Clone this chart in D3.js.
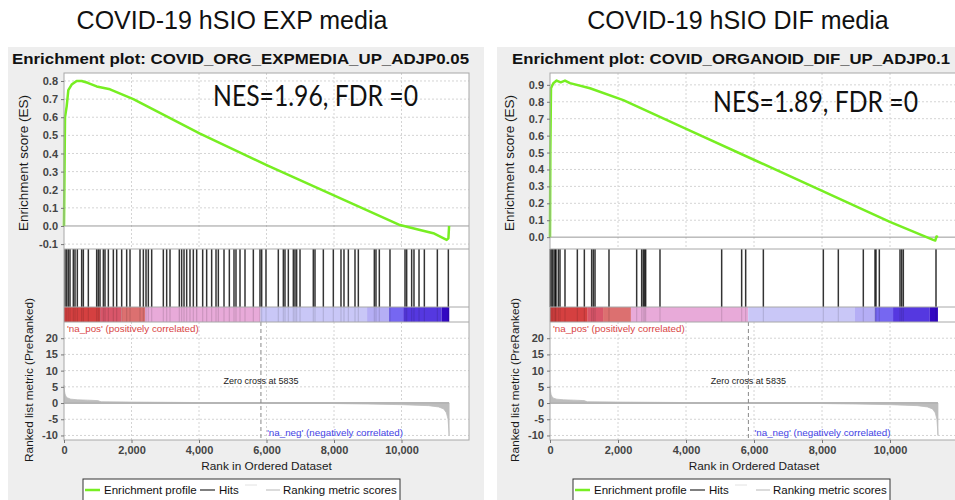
<!DOCTYPE html>
<html>
<head>
<meta charset="utf-8">
<script src="https://cdn.jsdelivr.net/npm/d3@7"></script>
<style>
body { margin: 0; background: #fff; }
svg { display: block; font-family: "Liberation Sans", Arial, sans-serif; }
.tick text { font-size: 11px; font-weight: bold; fill: #444; }
.tick line { stroke: #777; }
</style>
</head>
<body>
<div id="viz"></div>
<script>
const xTicks = [0, 2000, 4000, 6000, 8000, 10000];
const metricTicks = [-10, -5, 0, 5, 10, 15, 20];
const esTicksLeft = [-0.1, 0, 0.1, 0.2, 0.3, 0.4, 0.5, 0.6, 0.7, 0.8];
const esTicksRight = [0, 0.1, 0.2, 0.3, 0.4, 0.5, 0.6, 0.7, 0.8, 0.9];
const zeroCross = 5835;
const nGenes = 11410;

// running enrichment score, [rank, ES]
const esLeft = [[0, 0], [8, 0.16], [30, 0.6], [79, 0.66], [128, 0.75], [227, 0.78], [375, 0.80], [523, 0.80],
  [700, 0.79], [968, 0.77], [1363, 0.754], [2054, 0.70], [4030, 0.51], [6005, 0.336], [7980, 0.17],
  [9955, 0.005], [10548, -0.022], [10943, -0.04], [11338, -0.077], [11390, -0.068], [11410, 0]];
const esRight = [[0, 0], [10, 0.5], [29, 0.88], [98, 0.91], [196, 0.925], [314, 0.915], [441, 0.925],
  [588, 0.91], [1176, 0.88], [2156, 0.81], [4116, 0.63], [6076, 0.45], [8036, 0.27], [9996, 0.09],
  [11270, -0.016], [11330, -0.02], [11368, 0.004], [11410, 0.0]];

// gene set hits (ranks)
const hitsLeft = [30, 79, 128, 178, 276, 326, 395, 523, 573, 721, 968, 1017, 1067, 1166, 1215, 1314, 1462,
  1561, 1709, 1857, 1956, 2252, 2351, 2430, 2499, 2598, 2943, 3042, 3141, 3417, 3486, 3556, 3635, 3733,
  3832, 3931, 4109, 4227, 4375, 4504, 4573, 4741, 4899, 5037, 5096, 5215, 5363, 5610, 5807, 5857, 5985,
  6350, 6499, 6548, 6647, 6795, 6844, 6893, 6993, 7387, 7437, 7684, 7980, 8207, 8296, 8425, 8622, 8721,
  9195, 9244, 9343, 9659, 10104, 10153, 10301, 10370, 10519, 10677, 11062, 11388];
const hitsRight = [10, 29, 69, 118, 157, 176, 245, 294, 441, 804, 1010, 1225, 1275, 1324, 1735, 2549, 2696,
  2744, 2783, 2814, 3235, 5049, 5637, 5755, 6275, 8039, 8480, 9215, 9559, 9588, 9686, 10294, 10343,
  10392, 11353];

// colour bar segments: boundaries (ranks) and metric level of each segment
const barBreaksLeft = [0, 1070, 1700, 2400, 5820, 8980, 9630, 10050, 11190, 11415];
const barBreaksRight = [0, 1110, 1560, 2380, 5830, 8970, 9560, 10090, 11170, 11410];
const barLevels = [4, 3, 2, 1, -1, -2, -3, -4, -5];

// ranked list metric, [rank, value]
const metricLeft = [[0, 5.5], [10, 4], [30, 2.8], [60, 2], [100, 1.6], [200, 1.2], [400, 1.0], [700, 0.9],
  [1000, 0.75], [1100, 0.4], [2000, 0.3], [4000, 0.15], [5835, 0], [8000, -0.15], [9000, -0.3],
  [10000, -0.5], [10800, -0.8], [11100, -1.2], [11250, -1.8], [11330, -3], [11380, -5], [11400, -8],
  [11410, -10]];
const metricRight = [[0, 5.3], [10, 4], [30, 2.7], [60, 2], [100, 1.5], [200, 1.2], [400, 1.0], [700, 0.9],
  [1000, 0.75], [1100, 0.4], [2000, 0.3], [4000, 0.15], [5835, 0], [8000, -0.15], [9000, -0.3],
  [10000, -0.5], [10800, -0.8], [11100, -1.2], [11250, -1.8], [11330, -3], [11380, -5], [11400, -8],
  [11410, -10]];

const barColor = d3.scaleOrdinal()
  .domain([4, 3, 2, 1, -1, -2, -3, -4, -5])
  .range(["#d54040", "#d9566a", "#dc7070", "#e8aad9", "#c9c7f7", "#b5aef5", "#7667f1", "#5538e0", "#3208c2"]);

const panels = [
  { title: "COVID-19 hSIO EXP media", plotTitle: "Enrichment plot: COVID_ORG_EXPMEDIA_UP_ADJP0.05",
    nes: "NES=1.96, FDR =0", es: esLeft, esTicks: esTicksLeft, esDomain: [-0.127, 0.844],
    hits: hitsLeft, bar: barBreaksLeft, metric: metricLeft,
    panelX: 8, panelW: 476, x0: 64, x1: 469, titleX: 232, plotTitleX: 12, plotTitleW: 457,
    nesX: 213, nesY: 106, legendX: 83 },
  { title: "COVID-19 hSIO DIF media", plotTitle: "Enrichment plot: COVID_ORGANOID_DIF_UP_ADJP0.1",
    nes: "NES=1.89, FDR =0", es: esRight, esTicks: esTicksRight, esDomain: [-0.07, 0.97],
    hits: hitsRight, bar: barBreaksRight, metric: metricRight,
    panelX: 497, panelW: 470, x0: 550, x1: 958, titleX: 738, plotTitleX: 512, plotTitleW: 438,
    nesX: 713, nesY: 112, legendX: 573 }
];

const W = 955, H = 500;
const esTop = 73, esBottom = 249, hitsBottom = 307, barBottom = 322, rankBottom = 440;

const svg = d3.select("#viz").append("svg").attr("width", W).attr("height", H);

panels.forEach(drawPanel);

function drawPanel(p) {
  const g = svg.append("g");
  const x = d3.scaleLinear().domain([0, 12000]).range([p.x0, p.x1]);
  const yEs = d3.scaleLinear().domain(p.esDomain).range([esBottom, esTop]);
  const yM = d3.scaleLinear().domain([-11.4, 25]).range([rankBottom, barBottom]);
  const pw = p.x1 - p.x0;

  // page title
  svg.append("text").attr("x", p.titleX).attr("y", 29).attr("text-anchor", "middle")
    .attr("font-size", 25).attr("fill", "#111").text(p.title);

  // grey window
  g.append("rect").attr("x", p.panelX).attr("y", 47).attr("width", p.panelW).attr("height", H - 47)
    .attr("fill", "#eeeeee");

  g.append("text").attr("x", p.plotTitleX).attr("y", 64)
    .attr("font-size", 15).attr("font-weight", "bold").attr("fill", "#111")
    .attr("textLength", p.plotTitleW).attr("lengthAdjust", "spacingAndGlyphs")
    .text(p.plotTitle);

  g.append("rect").attr("x", p.x0).attr("y", esTop).attr("width", pw).attr("height", rankBottom - esTop)
    .attr("fill", "#fff");

  // ES grid
  const grid = g.append("g").attr("stroke", "#d4d4d4").attr("stroke-dasharray", "2,2");
  grid.selectAll(".vx").data(xTicks.slice(1)).join("line")
    .attr("x1", d => x(d)).attr("x2", d => x(d)).attr("y1", esTop).attr("y2", esBottom);
  grid.selectAll(".hy").data(p.esTicks.filter(d => d !== 0)).join("line")
    .attr("x1", p.x0).attr("x2", p.x1).attr("y1", d => yEs(d)).attr("y2", d => yEs(d));
  g.append("line").attr("x1", p.x0).attr("x2", p.x1).attr("y1", yEs(0)).attr("y2", yEs(0))
    .attr("stroke", "#999");

  g.append("path").datum(p.es)
    .attr("d", d3.line().x(d => x(d[0])).y(d => yEs(d[1])))
    .attr("fill", "none").attr("stroke", "#77ee22").attr("stroke-width", 2.5)
    .attr("stroke-linejoin", "round");

  // colour bar
  const segs = barLevels.map((lv, i) => ({ a: p.bar[i], b: p.bar[i + 1], lv }));
  g.selectAll(".seg").data(segs).join("rect")
    .attr("x", d => x(d.a)).attr("width", d => x(d.b) - x(d.a))
    .attr("y", hitsBottom).attr("height", barBottom - hitsBottom)
    .attr("fill", d => barColor(d.lv));

  // hits
  g.selectAll(".hit").data(p.hits).join("line")
    .attr("x1", d => x(d)).attr("x2", d => x(d)).attr("y1", esBottom).attr("y2", hitsBottom)
    .attr("stroke", "#000").attr("stroke-opacity", 0.8).attr("stroke-width", 1.5);
  g.selectAll(".hitb").data(p.hits).join("line")
    .attr("x1", d => x(d)).attr("x2", d => x(d)).attr("y1", hitsBottom).attr("y2", barBottom)
    .attr("stroke", "#000").attr("stroke-opacity", 0.12).attr("stroke-width", 1.2);

  // ranked metric grid
  const grid2 = g.append("g").attr("stroke", "#d4d4d4").attr("stroke-dasharray", "2,2");
  grid2.selectAll(".vx").data(xTicks.slice(1)).join("line")
    .attr("x1", d => x(d)).attr("x2", d => x(d)).attr("y1", barBottom).attr("y2", rankBottom);
  grid2.selectAll(".hy").data(metricTicks.filter(d => d !== 0)).join("line")
    .attr("x1", p.x0).attr("x2", p.x1).attr("y1", d => yM(d)).attr("y2", d => yM(d));

  g.append("path").datum(p.metric)
    .attr("d", d3.area().x(d => x(d[0])).y0(yM(0)).y1(d => yM(d[1])))
    .attr("fill", "#bdbdbd").attr("stroke", "#bdbdbd").attr("stroke-width", 0.8);
  g.append("line").attr("x1", x(0)).attr("x2", x(nGenes)).attr("y1", yM(0)).attr("y2", yM(0))
    .attr("stroke", "#b5b5b5").attr("stroke-width", 2);

  g.append("line").attr("x1", x(zeroCross)).attr("x2", x(zeroCross)).attr("y1", barBottom).attr("y2", rankBottom)
    .attr("stroke", "#888").attr("stroke-dasharray", "4,3");

  g.append("text").attr("x", x(zeroCross)).attr("y", 384).attr("text-anchor", "middle")
    .attr("font-size", 9).attr("fill", "#222").text("Zero cross at " + zeroCross);
  g.append("text").attr("x", p.x0 + 3).attr("y", 332).attr("font-size", 9.8).attr("fill", "#d94444")
    .text("'na_pos' (positively correlated)");
  g.append("text").attr("x", x(zeroCross) + 6).attr("y", 436).attr("font-size", 9.8).attr("fill", "#4444e6")
    .text("'na_neg' (negatively correlated)");

  // borders
  const border = g.append("g").attr("fill", "none").attr("stroke", "#a8a8a8");
  border.append("rect").attr("x", p.x0).attr("y", esTop).attr("width", pw).attr("height", rankBottom - esTop);
  [esBottom, hitsBottom, barBottom].forEach(yy =>
    border.append("line").attr("x1", p.x0).attr("x2", p.x1).attr("y1", yy).attr("y2", yy));

  // axes
  const ax1 = g.append("g").attr("transform", `translate(${p.x0},0)`)
    .call(d3.axisLeft(yEs).tickValues(p.esTicks).tickFormat(d => d.toFixed(1)).tickSize(3).tickPadding(3));
  const ax2 = g.append("g").attr("transform", `translate(${p.x0},0)`)
    .call(d3.axisLeft(yM).tickValues(metricTicks).tickFormat(d => String(d)).tickSize(3).tickPadding(3));
  const ax3 = g.append("g").attr("transform", `translate(0,${rankBottom})`)
    .call(d3.axisBottom(x).tickValues(xTicks).tickFormat(d3.format(",")).tickSize(3).tickPadding(3));
  [ax1, ax2, ax3].forEach(a => { a.select(".domain").remove(); a.attr("font-family", null); });

  g.append("text").attr("transform", `translate(${p.x0 - 36},${(esTop + esBottom) / 2 + 2}) rotate(-90)`)
    .attr("text-anchor", "middle").attr("font-size", 13.5).attr("fill", "#1a1a1a").text("Enrichment score (ES)");
  g.append("text").attr("transform", `translate(${p.x0 - 31},380) rotate(-90)`)
    .attr("text-anchor", "middle").attr("font-size", 11.8).attr("fill", "#1a1a1a").text("Ranked list metric (PreRanked)");
  g.append("text").attr("x", x(6000)).attr("y", 470).attr("text-anchor", "middle")
    .attr("font-size", 11.8).attr("fill", "#1a1a1a").text("Rank in Ordered Dataset");

  g.append("text").attr("x", p.nesX).attr("y", p.nesY).attr("font-family", "Lato, 'Open Sans', sans-serif")
    .attr("font-size", 28).attr("fill", "#111").attr("textLength", 205).attr("lengthAdjust", "spacingAndGlyphs")
    .text(p.nes);

  // legend
  const lx = p.legendX;
  const lg = g.append("g").attr("font-size", 11.5).attr("fill", "#111");
  lg.append("rect").attr("x", lx).attr("y", 479).attr("width", 317).attr("height", 30)
    .attr("fill", "#fff").attr("stroke", "#333");
  lg.append("line").attr("x1", lx + 2).attr("x2", lx + 17).attr("y1", 490).attr("y2", 490)
    .attr("stroke", "#77ee22").attr("stroke-width", 2.5);
  lg.append("text").attr("x", lx + 21).attr("y", 494).text("Enrichment profile");
  lg.append("line").attr("x1", lx + 117).attr("x2", lx + 132).attr("y1", 490).attr("y2", 490)
    .attr("stroke", "#555").attr("stroke-width", 1.5);
  lg.append("text").attr("x", lx + 136).attr("y", 494).text("Hits");
  lg.append("line").attr("x1", lx + 162).attr("x2", lx + 174).attr("y1", 485).attr("y2", 485)
    .attr("stroke", "#e2e2e2").attr("stroke-width", 1);
  lg.append("line").attr("x1", lx + 183).attr("x2", lx + 197).attr("y1", 490).attr("y2", 490)
    .attr("stroke", "#cfcfcf").attr("stroke-width", 1.5);
  lg.append("text").attr("x", lx + 200).attr("y", 494).text("Ranking metric scores");
}
</script>
</body>
</html>
